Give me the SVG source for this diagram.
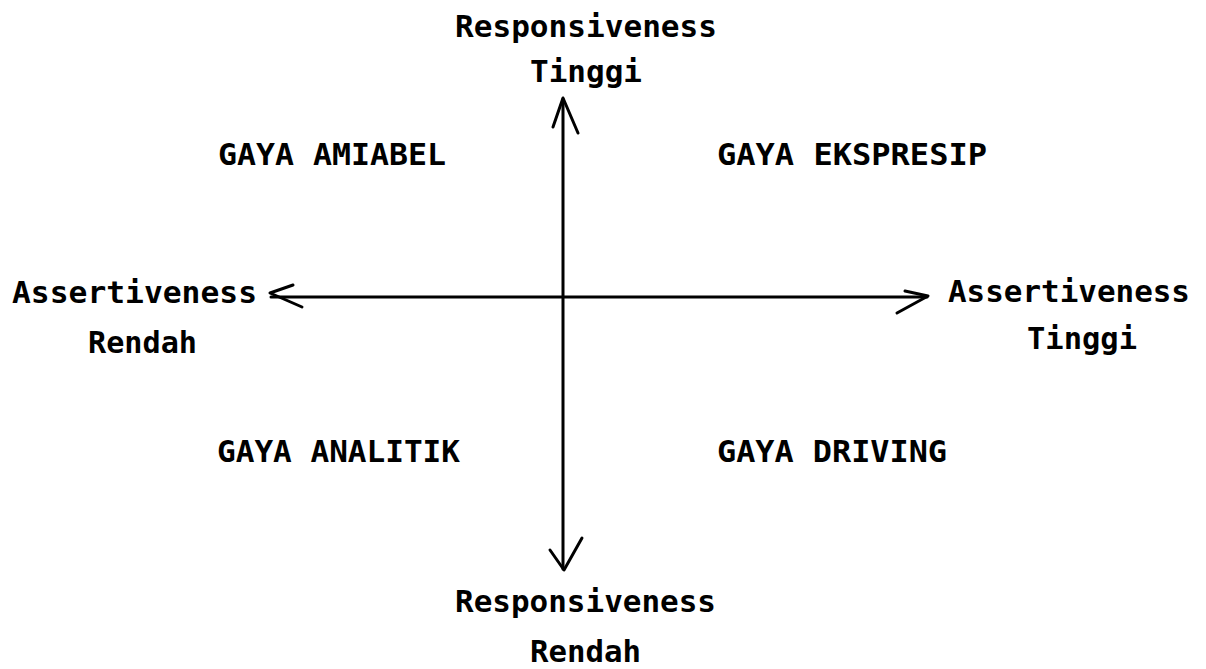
<svg xmlns="http://www.w3.org/2000/svg" width="1206" height="669" viewBox="0 0 1206 669">
<style>
.t{font-family:"DejaVu Sans Mono","Liberation Mono",monospace;font-weight:bold;font-size:31px;fill:#000}
.ax{fill:none;stroke:#000;stroke-width:3;stroke-linecap:round;stroke-linejoin:round}
</style>
<rect width="1206" height="669" fill="#fff"/>
<g id="connectors">
<line class="ax" x1="563" y1="99" x2="563" y2="569"/>
<line class="ax" x1="271" y1="297" x2="927" y2="297"/>
<polyline class="ax" points="553,127 563,98 578,133"/>
<polyline class="ax" points="550,550 564,570 582,538"/>
<polyline class="ax" points="293,285 270,293 302,307"/>
<polyline class="ax" points="905,291 928,296 897,313"/>
</g>
<g id="label-top"><text class="t" x="455" y="37" textLength="262" lengthAdjust="spacingAndGlyphs">Responsiveness</text><text class="t" x="530" y="82" textLength="112" lengthAdjust="spacingAndGlyphs">Tinggi</text></g>
<g id="label-left"><text class="t" x="12" y="303" textLength="245" lengthAdjust="spacingAndGlyphs">Assertiveness</text><text class="t" x="88" y="353" textLength="109" lengthAdjust="spacingAndGlyphs">Rendah</text></g>
<g id="label-right"><text class="t" x="948" y="302" textLength="242" lengthAdjust="spacingAndGlyphs">Assertiveness</text><text class="t" x="1027" y="349" textLength="110" lengthAdjust="spacingAndGlyphs">Tinggi</text></g>
<g id="label-bottom"><text class="t" x="455" y="612" textLength="261" lengthAdjust="spacingAndGlyphs">Responsiveness</text><text class="t" x="530" y="662" textLength="111" lengthAdjust="spacingAndGlyphs">Rendah</text></g>
<g id="q-amiabel"><text class="t" x="218" y="165" textLength="228" lengthAdjust="spacingAndGlyphs">GAYA AMIABEL</text></g>
<g id="q-ekspresip"><text class="t" x="717" y="165" textLength="270" lengthAdjust="spacingAndGlyphs">GAYA EKSPRESIP</text></g>
<g id="q-analitik"><text class="t" x="217" y="462" textLength="243" lengthAdjust="spacingAndGlyphs">GAYA ANALITIK</text></g>
<g id="q-driving"><text class="t" x="717" y="462" textLength="230" lengthAdjust="spacingAndGlyphs">GAYA DRIVING</text></g>
</svg>
